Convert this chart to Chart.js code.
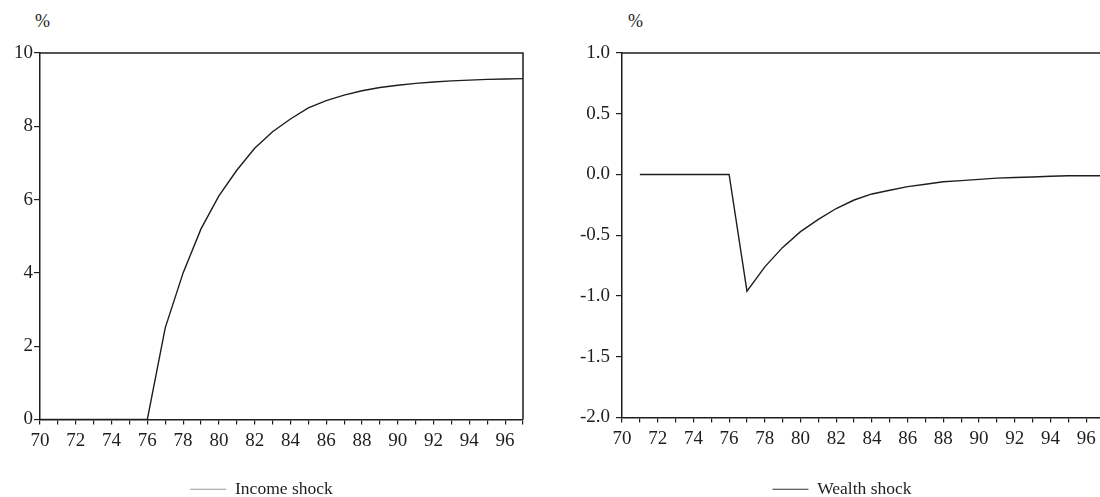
<!DOCTYPE html>
<html>
<head>
<meta charset="utf-8">
<script src="https://cdn.jsdelivr.net/npm/chart.js@4.4.0/dist/chart.umd.min.js"></script>
<style>
    html, body { margin: 0; padding: 0; width: 1100px; height: 497px; overflow: hidden; background: #fff; }
    canvas { position: absolute; top: 0; }
    #incomeChart { left: 0; }
    #wealthChart { left: 580px; }
    .pct { position: absolute; top: 11px; font: 18px "Liberation Serif", serif; color: #222; }
</style>
</head>
<body>
<span class="pct" style="left:35px">%</span>
<span class="pct" style="left:628px">%</span>
<canvas id="incomeChart" width="528" height="497"></canvas>
<canvas id="wealthChart" width="566" height="497"></canvas>
<script>
// impulse responses, annual, years 19xx
const incomeYears = [70, 71, 72, 73, 74, 75, 76, 77, 78, 79, 80, 81, 82, 83, 84, 85, 86, 87, 88, 89, 90, 91, 92, 93, 94, 95, 96, 97];
const incomeShock = [0, 0, 0, 0, 0, 0, 0, 2.5, 4.0, 5.2, 6.1, 6.8, 7.4, 7.85, 8.2, 8.5, 8.7, 8.85, 8.97, 9.06, 9.12, 9.17, 9.21, 9.24, 9.26, 9.28, 9.29, 9.3];

const wealthYears = [71, 72, 73, 74, 75, 76, 77, 78, 79, 80, 81, 82, 83, 84, 85, 86, 87, 88, 89, 90, 91, 92, 93, 94, 95, 96, 97];
const wealthShock = [0, 0, 0, 0, 0, 0, -0.96, -0.76, -0.6, -0.47, -0.37, -0.28, -0.21, -0.16, -0.13, -0.1, -0.08, -0.06, -0.05, -0.04, -0.03, -0.025, -0.02, -0.015, -0.01, -0.01, -0.01];

const incomeTicks = { min: 0, max: 10, step: 2 };
const wealthTicks = { min: -2, max: 1, step: 0.5 };

const FONT = '"Liberation Serif", "Times New Roman", serif';
const INK = '#1e1e1e';

const framePlugin = {
    id: 'frame',
    afterDatasetsDraw(chart, args, opts) {
        const { ctx, chartArea } = chart;
        ctx.save();
        ctx.strokeStyle = INK;
        ctx.lineWidth = 1.5;
        ctx.beginPath();
        ctx.moveTo(chartArea.left, chartArea.top);
        ctx.lineTo(chartArea.right, chartArea.top);
        if (opts.right) {
            ctx.lineTo(chartArea.right, chartArea.bottom);
        }
        ctx.stroke();
        ctx.restore();
    }
};

function makeChart(id, label, years, values, yTicks, cfg) {
    const ctx = document.getElementById(id).getContext('2d');
    return new Chart(ctx, {
        type: 'line',
        data: {
            datasets: [{
                label: label,
                data: years.map((y, i) => ({ x: y, y: values[i] })),
                borderColor: INK,
                borderWidth: 1.4,
                pointRadius: 0,
                tension: 0,
                fill: false
            }]
        },
        options: {
            responsive: false,
            animation: false,
            layout: { padding: { top: 53, right: cfg.padRight, left: 0, bottom: -11 } },
            scales: {
                x: {
                    type: 'linear',
                    min: 70,
                    max: 97,
                    afterFit: (scale) => { scale.height = cfg.xHeight; },
                    grid: { drawOnChartArea: false, drawTicks: true, tickLength: 5, color: INK, lineWidth: 1.2 },
                    border: { display: true, color: INK, width: 1.5 },
                    ticks: {
                        stepSize: 1,
                        autoSkip: false,
                        maxRotation: 0,
                        padding: 5,
                        color: INK,
                        font: { family: FONT, size: 19 },
                        callback: (v) => (v % 2 === 0 && v <= 96 ? String(v) : '')
                    }
                },
                y: {
                    min: yTicks.min,
                    max: yTicks.max,
                    afterFit: (scale) => { scale.width = cfg.yWidth; },
                    grid: { drawOnChartArea: false, drawTicks: true, tickLength: 6, color: INK, lineWidth: 1.2 },
                    border: { display: true, color: INK, width: 1.5 },
                    ticks: {
                        stepSize: yTicks.step,
                        padding: cfg.yPad,
                        color: INK,
                        font: { family: FONT, size: 19 },
                        callback: cfg.yFormat
                    }
                }
            },
            plugins: {
                frame: { right: cfg.frameRight },
                tooltip: { enabled: false },
                legend: {
                    position: 'bottom',
                    labels: {
                        usePointStyle: true,
                        pointStyle: 'line',
                        pointStyleWidth: 36,
                        padding: 0,
                        color: INK,
                        font: { family: FONT, size: 17.5 },
                        generateLabels: (chart) => {
                            const items = Chart.defaults.plugins.legend.labels.generateLabels(chart);
                            items.forEach((item) => {
                                item.strokeStyle = cfg.legendColor;
                                item.lineWidth = 1.2;
                            });
                            return items;
                        }
                    }
                }
            }
        },
        plugins: [framePlugin]
    });
}

makeChart('incomeChart', 'Income shock', incomeYears, incomeShock, incomeTicks, {
    padRight: 5,
    yWidth: 40,
    xHeight: 61,
    yPad: 1,
    frameRight: true,
    legendColor: '#9a9a9a',
    yFormat: (v) => String(v)
});

makeChart('wealthChart', 'Wealth shock', wealthYears, wealthShock, wealthTicks, {
    padRight: 42,
    yWidth: 42,
    xHeight: 63,
    yPad: 6,
    frameRight: false,
    legendColor: '#333333',
    yFormat: (v) => v.toFixed(1)
});
</script>
</body>
</html>
